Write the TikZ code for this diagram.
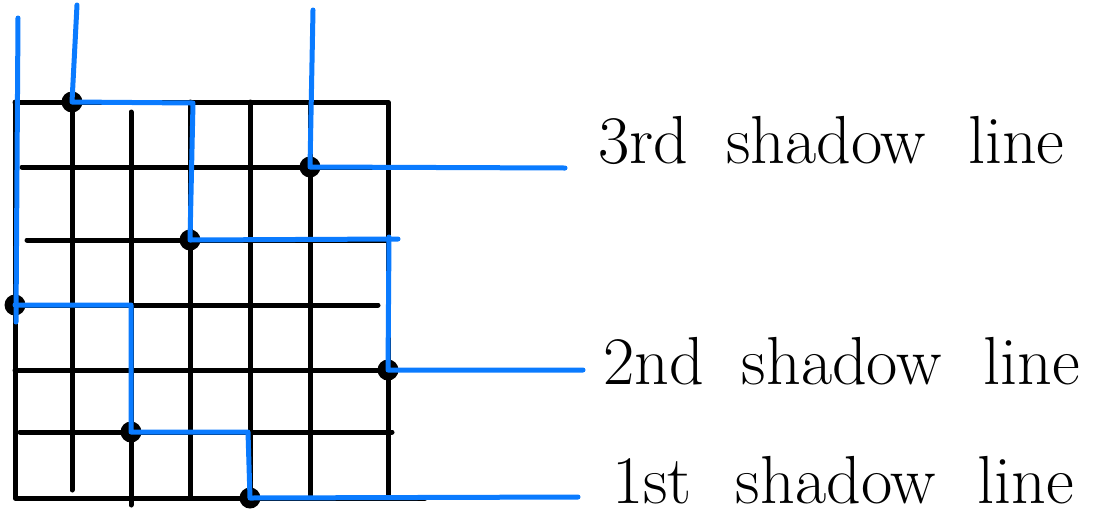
\documentclass[tikz,border=0pt]{standalone}
\usepackage{tikz}
\usetikzlibrary{positioning}
\definecolor{ShadowBlue}{HTML}{0A7BFF}
\definecolor{GridBlack}{HTML}{000000}

\begin{document}
\begin{tikzpicture}[x=1pt,y=-1pt,line cap=round,line join=round,
    gridline/.style={GridBlack,line width=5pt},
    shadow/.style={ShadowBlue,line width=5pt},
    dot/.style={GridBlack,fill,circle,minimum size=21pt,inner sep=0pt},
    lab/.style={anchor=base west,font=\fontsize{68}{80}\selectfont,inner sep=0pt}]
    \useasboundingbox (0,0) rectangle (1107,520);
    % grid: outer frame and inner lines
    \draw[gridline] (15,102) -- (388,102) -- (388,498);
    \draw[gridline] (15,102) -- (15,498) -- (425,498);
    \foreach \y/\xa/\xb in {167/22/377,240/27/388,305/20/378,370/15/388,432/20/392}{
      \draw[gridline] (\xa,\y) -- (\xb,\y);}
    \foreach \x/\ya/\yb in {72/102/490,131/112/505,190/102/498,250/102/498,310/102/498}{
      \draw[gridline] (\x,\ya) -- (\x,\yb);}
    % points of the permutation
    \foreach \n/\x/\y in {a/15/305,b/72/102,c/131/432,d/190/240,e/250/498,f/310/167,g/388/370}{
      \node[dot] (\n) at (\x,\y) {};}
    % labels
    \node[lab] (third) at (598,163) {3rd\hspace{38pt}shadow\hspace{42pt}line};
    \node[lab] (second) at (603,384) {2nd\hspace{38pt}shadow\hspace{42pt}line};
    \node[lab] (first) at (612,503) {1st\hspace{44pt}shadow\hspace{42pt}line};
    \coordinate (s1) at (18,18);
    \coordinate (s2) at (77,5);
    \coordinate (s3) at (313,10);
    \coordinate (e1) at (578,497);
    \coordinate (e2) at (583,370);
    \coordinate (e3) at (565,168);
    % shadow lines
    \draw[shadow] (s1) -- (16,322);
    \draw[shadow] (a.center) -- (c.center |- a.center) -- (c.center) -- (248,432) -- (e.center) -- (e1);
    \draw[shadow] (s2) -- (b.center) -- (193,103) -- (d.center) -- (398,239);
    \draw[shadow] (389,237) -- (g.center) -- (e2);
    \draw[shadow] (s3) -- (f.center) -- (e3);
  \end{tikzpicture}
\end{document}
